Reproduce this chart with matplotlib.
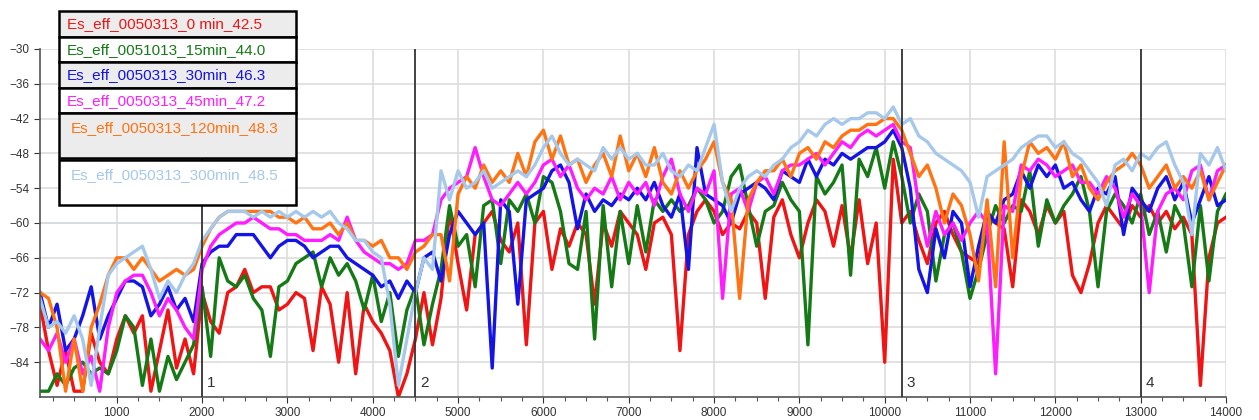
import matplotlib.pyplot as plt
from matplotlib.patches import Rectangle
import numpy as np

plt.rcParams['font.family'] = ['Liberation Sans', 'DejaVu Sans']

# frequency axis, one value every 100 Hz
freq = list(range(100, 14001, 100))

red = [
    -74, -82, -88, -82, -89, -89, -79, -84, -86, -80,
    -76, -79, -76, -89, -82, -75, -85, -80, -86, -72,
    -77, -79, -72, -71, -68, -72, -71, -71, -75, -74,
    -72, -73, -82, -71, -74, -84, -72, -86, -74, -77,
    -79, -82, -90, -86, -80, -72, -81, -73, -58, -67,
    -75, -62, -60, -58, -63, -65, -60, -81, -60, -58,
    -68, -61, -64, -60, -62, -74, -60, -64, -58, -60,
    -62, -68, -60, -59, -62, -82, -62, -58, -56, -58,
    -62, -60, -61, -58, -60, -73, -59, -56, -62, -66,
    -60, -56, -58, -64, -57, -66, -56, -67, -60, -84,
    -49, -60, -58, -63, -67, -60, -58, -62, -65, -66,
    -67, -59, -60, -61, -71, -56, -58, -62, -57, -60,
    -58, -69, -72, -67, -60, -57, -59, -61, -57, -59,
    -57, -60, -58, -61, -59, -62, -88, -66, -60, -59,
]

green = [
    -89, -89, -86, -88, -85, -84, -86, -85, -86, -82,
    -76, -78, -88, -80, -89, -83, -87, -84, -81, -71,
    -83, -66, -70, -71, -69, -73, -75, -83, -71, -70,
    -67, -66, -65, -71, -66, -69, -67, -70, -75, -69,
    -77, -72, -83, -75, -71, -81, -74, -68, -57, -64,
    -62, -71, -57, -56, -67, -56, -58, -55, -60, -52,
    -53, -58, -67, -68, -58, -80, -57, -71, -58, -67,
    -57, -65, -56, -58, -56, -58, -57, -54, -56, -60,
    -58, -52, -50, -57, -64, -58, -57, -53, -56, -58,
    -81, -52, -55, -53, -50, -69, -49, -52, -47, -54,
    -46, -52, -60, -55, -58, -70, -62, -60, -65, -73,
    -68, -62, -57, -60, -57, -58, -51, -64, -56, -60,
    -57, -55, -52, -58, -71, -58, -55, -57, -60, -55,
    -62, -58, -65, -57, -60, -71, -57, -70, -58, -55,
]

blue = [
    -72, -78, -74, -82, -80, -76, -71, -80, -76, -73,
    -70, -70, -71, -76, -74, -71, -75, -73, -77, -67,
    -65, -64, -64, -62, -62, -62, -64, -66, -64, -63,
    -63, -64, -66, -65, -64, -64, -66, -67, -68, -69,
    -71, -70, -73, -70, -72, -66, -65, -70, -62, -58,
    -60, -62, -60, -85, -56, -58, -74, -56, -55, -54,
    -51, -50, -53, -61, -55, -58, -56, -57, -55, -56,
    -54, -56, -53, -57, -59, -55, -68, -47, -55, -56,
    -57, -60, -55, -54, -53, -54, -56, -51, -52, -53,
    -49, -52, -49, -50, -48, -49, -48, -47, -47, -46,
    -44, -47, -54, -68, -72, -61, -66, -58, -60, -71,
    -64, -58, -60, -56, -55, -51, -54, -50, -52, -50,
    -54, -53, -56, -58, -54, -55, -52, -62, -54, -56,
    -58, -54, -52, -56, -53, -60, -56, -52, -57, -56,
]

magenta = [
    -80, -82, -79, -84, -80, -86, -83, -89, -78, -72,
    -70, -69, -69, -72, -76, -73, -75, -78, -80, -68,
    -64, -62, -61, -60, -60, -59, -60, -61, -61, -62,
    -62, -63, -63, -63, -62, -63, -59, -63, -65, -66,
    -67, -67, -68, -67, -63, -63, -62, -56, -54, -53,
    -52, -47, -52, -56, -57, -55, -53, -55, -53, -50,
    -49, -52, -50, -54, -56, -54, -55, -52, -56, -53,
    -55, -53, -57, -52, -49, -55, -58, -54, -55, -51,
    -73, -55, -54, -58, -53, -52, -55, -51, -50, -50,
    -49, -48, -50, -48, -46, -47, -45, -44, -45, -44,
    -43, -46, -47, -57, -64, -58, -62, -60, -63, -60,
    -58, -60, -86, -57, -58, -50, -51, -49, -50, -52,
    -51, -50, -53, -53, -55, -52, -54, -59, -55, -57,
    -72, -58, -55, -54, -56, -51, -50, -56, -51, -50,
]

orange = [
    -72, -73, -78, -89, -80, -89, -78, -74, -69, -66,
    -66, -68, -66, -68, -70, -69, -68, -69, -68, -64,
    -61, -59, -58, -58, -58, -58, -58, -58, -59, -59,
    -60, -59, -61, -61, -60, -62, -60, -63, -63, -64,
    -63, -66, -66, -68, -65, -64, -62, -62, -70, -55,
    -52, -54, -50, -53, -51, -53, -48, -52, -46, -44,
    -49, -45, -50, -49, -53, -50, -48, -52, -45, -51,
    -48, -52, -47, -53, -55, -51, -54, -51, -49, -46,
    -53, -56, -73, -56, -53, -51, -51, -49, -52, -48,
    -47, -49, -46, -47, -45, -44, -44, -43, -43, -42,
    -42, -44, -48, -52, -50, -54, -60, -55, -57, -62,
    -70, -56, -71, -46, -66, -52, -46, -48, -47, -49,
    -46, -52, -50, -54, -56, -53, -51, -50, -48, -50,
    -54, -52, -50, -54, -52, -54, -51, -56, -53, -50,
]

lightblue = [
    -73, -78, -77, -79, -76, -80, -88, -78, -69, -67,
    -66, -65, -64, -68, -73, -70, -72, -69, -67, -63,
    -61, -59, -58, -58, -58, -59, -58, -59, -58, -59,
    -58, -59, -58, -59, -58, -60, -61, -63, -63, -65,
    -66, -74, -88, -80, -72, -66, -68, -51, -56, -51,
    -54, -53, -51, -54, -53, -52, -51, -52, -50, -47,
    -45, -48, -50, -49, -50, -51, -47, -49, -47, -49,
    -48, -50, -50, -48, -51, -52, -50, -51, -47, -43,
    -53, -58, -54, -52, -51, -52, -50, -49, -47, -46,
    -44, -45, -43, -42, -43, -42, -42, -41, -41, -42,
    -40, -43, -42, -45, -46, -48, -49, -50, -51, -53,
    -59, -52, -51, -50, -49, -47, -46, -45, -45, -47,
    -46, -48, -49, -51, -53, -57, -50, -49, -51, -48,
    -49, -47, -46, -50, -53, -62, -48, -50, -47, -51,
]

labels = [
    'Es_eff_0050313_0 min_42.5',
    'Es_eff_0051013_15min_44.0',
    'Es_eff_0050313_30min_46.3',
    'Es_eff_0050313_45min_47.2',
    'Es_eff_0050313_120min_48.3',
    'Es_eff_0050313_300min_48.5',
]
colors = ['#f01414', '#157a15', '#1414e6', '#ff1cff', '#ff7312', '#a6c8ea']
series = [red, green, blue, magenta, orange, lightblue]

markers = [2000, 4500, 10200, 13000]
marker_names = ['1', '2', '3', '4']

fig = plt.figure(figsize=(12.59, 4.2), dpi=100)
ax = fig.add_axes([40/1259, 1 - 397/420, (1226 - 40)/1259, (397 - 49)/420])

for y, c in zip(series, colors):
    ax.plot(freq, y, color=c, linewidth=2.4, solid_joinstyle='round')

ax.set_xlim(100, 14000)
ax.set_ylim(-90, -30)
ax.set_xticks(range(1000, 14001, 1000))
ax.set_xticks(range(250, 14001, 250), minor=True)
ax.set_yticks(range(-84, -29, 6))
ax.tick_params(axis='both', labelsize=8.5, colors='#333333', length=4, width=0.8)
ax.tick_params(axis='x', which='minor', length=3, width=0.8, colors='#555555')
ax.grid(True, color='#dddddd', linewidth=1.2, zorder=0)
ax.axhline(-60, color='#b9d3ee', linewidth=1.2, zorder=0)
for s in ['top', 'right']:
    ax.spines[s].set_visible(False)
for s in ['left', 'bottom']:
    ax.spines[s].set_color('#555555')
    ax.spines[s].set_linewidth(1.2)

for xm, name in zip(markers, marker_names):
    ax.axvline(xm, color='#333333', linewidth=1.3, zorder=5)
    ax.text(xm + 60, -87.6, name, fontsize=11, color='#333333', va='center', ha='left')

# legend drawn as stacked boxes in pixel coordinates
rows = [(11, 37), (37, 62), (62, 88), (88, 113), (113, 158), (160, 205)]
fills = ['#ececec', 'white', '#ececec', 'white', '#ececec', 'white']
W, H = 1259, 420
for (top, bot), fc, lab, c in zip(rows, fills, labels, colors):
    fig.patches.append(Rectangle((59/W, 1 - bot/H), (296 - 59)/W, (bot - top)/H,
                                 transform=fig.transFigure, facecolor=fc,
                                 edgecolor='black', linewidth=1.8, zorder=10))
    ty = top + 13 if bot - top < 30 else top + 15
    tx = 67 if lab.find('120') < 0 and lab.find('300') < 0 else 71
    fig.text(tx/W, 1 - ty/H, lab, color=c, fontsize=11, va='center', ha='left', zorder=11)

fig.savefig('out.png', dpi=100)
